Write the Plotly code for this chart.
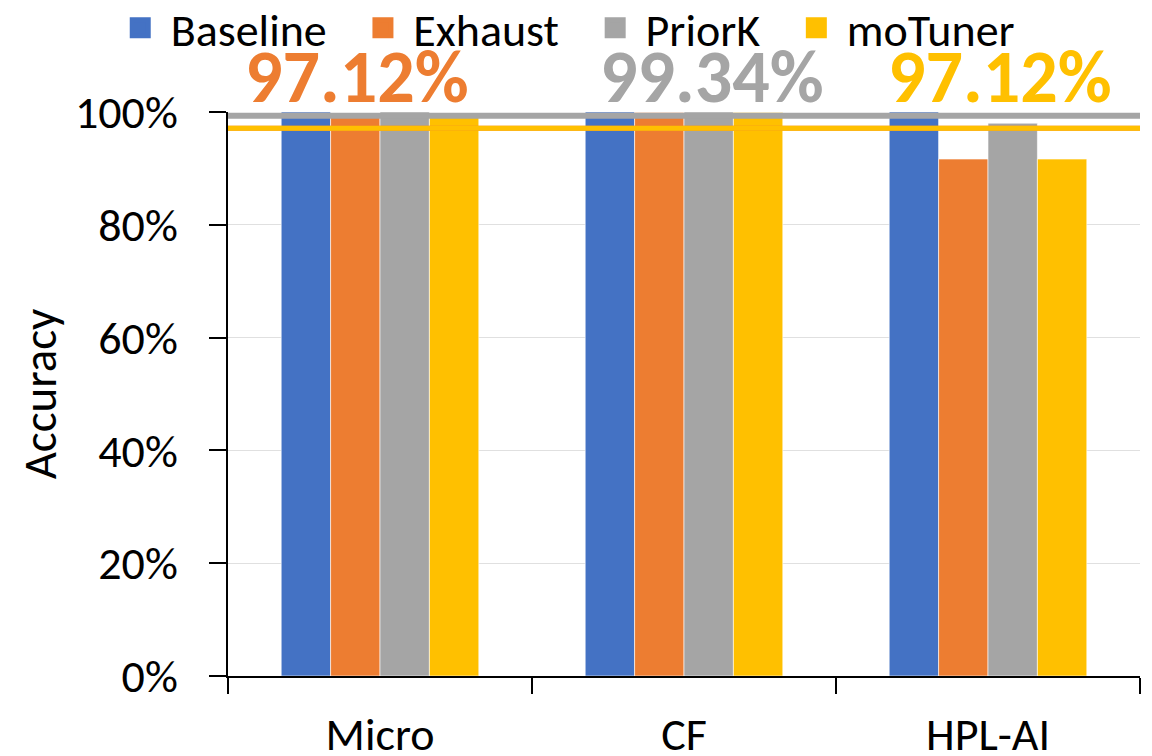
import plotly.graph_objects as go

categories = ["Micro", "CF", "HPL-AI"]
series_names = ["Baseline", "Exhaust", "PriorK", "moTuner"]
baseline = [100.0, 100.0, 100.0]
exhaust = [99.8, 99.9, 91.66]
priork = [100.0, 100.0, 98.02]
motuner = [99.8, 99.9, 91.66]
colors = ["#4472C4", "#ED7D31", "#A5A5A5", "#FFC000"]

# average accuracy per method, shown as reference lines and big labels
avg_names = ["Exhaust", "PriorK", "moTuner"]
avg_values = [97.12, 99.34, 97.12]
avg_colors = ["#ED7D31", "#A5A5A5", "#FFC000"]
avg_label_at = ["Micro", "CF", "HPL-AI"]

yticks = [0, 20, 40, 60, 80, 100]
ytick_text = ["0%", "20%", "40%", "60%", "80%", "100%"]

FONT = "Carlito, Lato, Calibri, sans-serif"
NBSP = "\u00a0"

fig = go.Figure()
for name, vals, col in zip(series_names, [baseline, exhaust, priork, motuner], colors):
    fig.add_trace(go.Bar(
        x=categories, y=vals, name=name, showlegend=False,
        marker=dict(color=col, line=dict(color="rgba(255,255,255,0.6)", width=1)),
    ))

# legend keys: larger squares than the default bar swatches, padded names for spacing
for i, (name, col) in enumerate(zip(series_names, colors)):
    pad_right = NBSP * 3 if i < len(series_names) - 1 else ""
    fig.add_trace(go.Scatter(
        x=[None], y=[None], mode="markers", name=NBSP + name + pad_right,
        marker=dict(symbol="square", size=16, color=col, line=dict(color=col, width=5)),
    ))

# average lines (drawn on top of bars), orange under yellow
for name, val, col in zip(avg_names, avg_values, avg_colors):
    fig.add_shape(type="line", xref="paper", yref="y", x0=0, x1=1, y0=val, y1=val,
                  line=dict(color=col, width=6 if name == "PriorK" else 5), layer="above")

label_shift = [-23, 28, 12]
for val, col, cat, dx in zip(avg_values, avg_colors, avg_label_at, label_shift):
    fig.add_annotation(x=cat, xref="x", y=1.0, yref="paper", yanchor="middle",
                       yshift=35, xshift=dx,
                       text=f"<b>{val:.2f}%</b>", showarrow=False,
                       font=dict(family=FONT, size=74, color=col))

fig.update_layout(
    width=1152, height=756,
    margin=dict(l=228, r=12, t=112, b=80, autoexpand=False),
    paper_bgcolor="white", plot_bgcolor="white",
    barmode="group", bargap=0.35, bargroupgap=0,
    font=dict(family=FONT, size=40, color="black"),
    legend=dict(orientation="h", x=0.495, xref="container", xanchor="center",
                y=0.963, yref="container", yanchor="middle",
                font=dict(size=46), itemwidth=30, traceorder="normal",
                itemsizing="trace", bgcolor="rgba(0,0,0,0)"),
    showlegend=True,
)
fig.update_yaxes(range=[0, 100], tickvals=yticks, ticktext=ytick_text,
                 showgrid=True, gridcolor="#E0E0E0", gridwidth=1,
                 showline=True, linecolor="black", linewidth=2,
                 ticks="outside", ticklen=17, tickwidth=2, tickcolor="black",
                 ticklabelstandoff=22, tickfont=dict(size=46),
                 title=dict(text="Accuracy", font=dict(size=47), standoff=4),
                 zeroline=False, automargin=False)
fig.update_xaxes(showline=True, linecolor="black", linewidth=2,
                 ticks="outside", tickson="boundaries", ticklen=16, tickwidth=2,
                 tickcolor="black", ticklabelstandoff=17, tickfont=dict(size=46),
                 automargin=False)

fig.write_html("out.html")
